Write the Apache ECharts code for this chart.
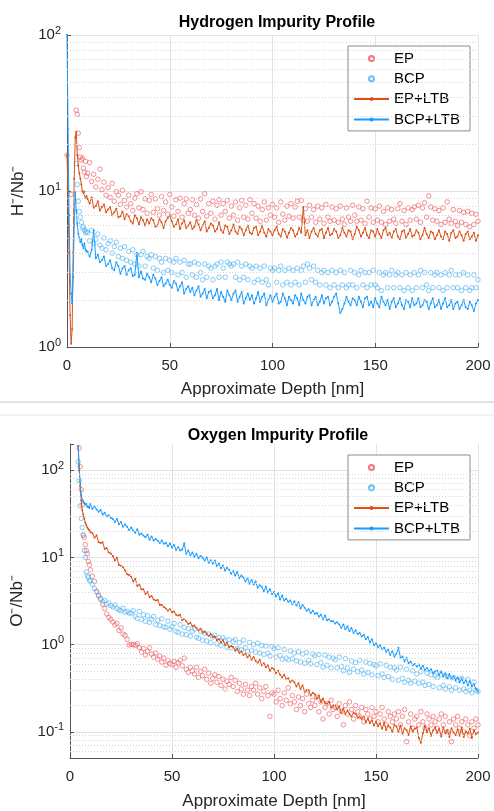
<!DOCTYPE html>
<html>
<head>
<meta charset="utf-8">
<script src="https://cdn.jsdelivr.net/npm/echarts@6.0.0/dist/echarts.min.js"></script>
<style>
html, body { margin: 0; padding: 0; background: #fff; }
#chart { width: 494px; height: 811px; }
</style>
</head>
<body>
<div id="chart"></div>
<script>
// depth grid [nm]: fine steps near the surface, then 1 nm
var depth = [
  0, 0.5, 1, 1.5, 2, 2.5, 3, 3.5, 4, 4.5, 5, 5.5, 6, 6.5, 7, 7.5, 8, 8.5, 9, 9.5,
  10, 11, 12, 13, 14, 15, 16, 17, 18, 19,
  20, 21, 22, 23, 24, 25, 26, 27, 28, 29,
  30, 31, 32, 33, 34, 35, 36, 37, 38, 39,
  40, 41, 42, 43, 44, 45, 46, 47, 48, 49,
  50, 51, 52, 53, 54, 55, 56, 57, 58, 59,
  60, 61, 62, 63, 64, 65, 66, 67, 68, 69,
  70, 71, 72, 73, 74, 75, 76, 77, 78, 79,
  80, 81, 82, 83, 84, 85, 86, 87, 88, 89,
  90, 91, 92, 93, 94, 95, 96, 97, 98, 99,
  100, 101, 102, 103, 104, 105, 106, 107, 108, 109,
  110, 111, 112, 113, 114, 115, 116, 117, 118, 119,
  120, 121, 122, 123, 124, 125, 126, 127, 128, 129,
  130, 131, 132, 133, 134, 135, 136, 137, 138, 139,
  140, 141, 142, 143, 144, 145, 146, 147, 148, 149,
  150, 151, 152, 153, 154, 155, 156, 157, 158, 159,
  160, 161, 162, 163, 164, 165, 166, 167, 168, 169,
  170, 171, 172, 173, 174, 175, 176, 177, 178, 179,
  180, 181, 182, 183, 184, 185, 186, 187, 188, 189,
  190, 191, 192, 193, 194, 195, 196, 197, 198, 199,
  200
];

// ---- Hydrogen (H-/Nb-) ----
var hEp = [
  17, null, null, null, 9.5, null, null, null, null, 33, 31, 23.5, 19, 16.5, 15.8, 16.2, 14, 13.2, 15.5, 12.4,
  13.0, 15.2, 11.5, 12.8, 10.6, 11.9, 13.8, 10.2, 11.4, 9.4,
  10.5, 9.1, 11.2, 8.6, 9.9, 9.4, 8.2, 10.1, 8.7, 7.9,
  9.4, 8.3, 7.5, 9.0, 9.6, 7.8, 9.9, 7.6, 8.9, 7.2,
  8.7, 9.5, 7.3, 8.9, 7.7, 7.0, 9.2, 7.5, 8.5, 7.1,
  9.5, 7.9, 6.9, 8.8, 7.4, 9.0, 6.8, 8.3, 8.9, 7.2,
  7.6, 8.8, 7.0, 8.2, 6.7, 8.9, 7.4, 9.6, 6.9, 8.3,
  7.2, 8.6, 6.6, 8.1, 8.8, 7.0, 8.3, 7.4, 8.7, 6.7,
  8.0, 7.0, 8.5, 6.5, 7.8, 8.7, 6.8, 8.1, 6.6, 8.8,
  7.2, 8.3, 6.7, 8.0, 6.4, 7.6, 8.5, 6.5, 7.8, 7.0,
  8.2, 6.8, 7.8, 6.3, 8.5, 7.1, 6.5, 8.0, 6.9, 8.3,
  6.7, 7.9, 8.6, 6.8, 8.7, 6.5, 7.7, 6.4, 8.1, 6.8,
  7.6, 6.3, 8.0, 6.6, 7.8, 6.2, 8.2, 6.8, 6.4, 7.9,
  6.5, 7.7, 6.3, 8.0, 6.6, 6.1, 7.8, 6.8, 6.4, 8.1,
  7.0, 6.4, 7.9, 6.5, 7.7, 6.2, 8.6, 6.8, 7.8, 6.3,
  7.7, 6.5, 8.0, 6.3, 7.4, 6.1, 7.8, 6.4, 7.6, 6.6,
  6.2, 7.7, 8.3, 6.4, 7.5, 6.1, 7.8, 6.5, 7.6, 7.9,
  6.6, 8.1, 6.3, 7.8, 8.4, 6.8, 9.3, 7.9, 6.5, 7.7,
  6.4, 7.5, 6.1, 7.8, 6.3, 8.5, 6.6, 6.2, 7.6, 6.4,
  6.0, 7.5, 6.3, 7.3, 6.1, 7.4, 5.9, 7.2, 6.1, 7.1,
  6.4
];
var hBcp = [
  null, null, null, null, null, null, null, null, null, 15, 11, 8.6, 7.4, 6.8, 6.3, 5.8, 5.9, 5.6, 5.4, 5.5,
  5.4, 4.8, 5.6, 4.6, 4.9, 5.3, 4.5, 4.3, 5.0, 4.2,
  4.6, 4.8, 4.0, 4.4, 4.7, 3.8, 4.3, 3.7, 4.4, 3.6,
  4.1, 3.5, 4.2, 3.4, 3.9, 3.3, 3.9, 4.1, 3.3, 3.8,
  3.7, 3.9, 3.2, 3.8, 3.1, 3.7, 3.5, 3.0, 3.7, 3.1,
  3.6, 3.0, 3.5, 3.7, 2.9, 3.5, 3.0, 3.6, 2.8, 3.4,
  3.4, 2.9, 3.5, 2.8, 3.4, 3.0, 2.7, 3.4, 2.8, 3.3,
  3.2, 2.7, 3.3, 3.4, 2.8, 3.5, 3.2, 2.8, 3.5, 3.4,
  3.3, 3.4, 2.8, 3.5, 2.7, 3.3, 2.8, 3.4, 2.7, 3.3,
  3.2, 2.6, 3.3, 2.7, 3.2, 2.6, 3.3, 2.7, 2.5, 3.2,
  3.1, 3.2, 2.6, 3.1, 3.3, 2.5, 3.1, 2.6, 3.2, 2.5,
  3.1, 2.6, 3.2, 2.5, 3.1, 3.3, 2.6, 3.4, 3.2, 2.7,
  3.3, 2.6, 3.1, 2.5, 3.0, 3.1, 2.5, 3.0, 2.4, 3.1,
  2.5, 3.0, 2.4, 3.1, 2.5, 3.0, 2.4, 2.5, 3.1, 2.5,
  3.0, 2.4, 2.9, 3.1, 2.5, 3.0, 2.4, 3.0, 2.5, 3.1,
  2.5, 2.4, 3.0, 2.3, 2.9, 3.0, 2.4, 2.9, 3.1, 2.4,
  2.9, 3.0, 2.4, 2.9, 2.3, 3.0, 2.4, 2.9, 2.3, 3.0,
  2.4, 2.9, 3.1, 2.4, 3.0, 2.5, 2.3, 3.0, 2.4, 2.9,
  3.0, 2.4, 2.9, 2.3, 3.0, 2.4, 2.9, 3.1, 2.4, 2.9,
  2.4, 2.9, 2.3, 3.0, 2.4, 2.9, 2.3, 2.4, 2.9, 2.4,
  2.7
];
var hEpLtb = [
  17, 10, 4, 1.6, 1.05, 1.3, 4, 12, 22, 24, 17, 14.5, 13, 12, 11, 10, 9.7, 9.9, 9.0, 9.3,
  8.9, 8.3, 9.1, 7.8, 8.0, 8.6, 7.5, 7.9, 8.2, 7.3,
  7.6, 7.9, 7.0, 7.3, 7.7, 6.8, 6.9, 7.4, 6.6, 7.1,
  6.9, 6.4, 6.2, 7.0, 6.7, 6.1, 6.8, 6.5, 6.0, 6.6,
  6.2, 6.7, 6.5, 5.9, 6.0, 6.6, 6.3, 5.8, 6.4, 6.7,
  7.0, 6.4, 5.9, 6.1, 6.6, 5.7, 6.2, 6.5, 5.8, 6.0,
  6.3, 5.7, 5.9, 6.5, 6.1, 5.6, 6.0, 6.4, 5.5, 5.8,
  6.2, 6.0, 5.5, 5.7, 6.3, 5.6, 5.4, 6.0, 5.9, 5.3,
  5.6, 6.1, 5.5, 5.3, 5.9, 5.7, 5.2, 5.6, 6.0, 5.4,
  5.3, 5.8, 5.9, 5.2, 5.5, 6.0, 5.4, 5.1, 5.7, 5.5,
  5.2, 5.6, 5.9, 5.3, 5.1, 5.7, 5.5, 5.0, 5.4, 5.8,
  5.6, 5.1, 5.3, 5.8, 5.4, 7.9, 5.2, 5.6, 5.0, 5.5,
  5.8, 5.3, 5.1, 5.6, 5.7, 5.0, 5.4, 5.8, 5.2, 5.3,
  5.7, 5.5, 5.0, 5.2, 5.8, 5.4, 5.1, 5.6, 5.5, 4.9,
  5.3, 5.9, 5.6, 5.1, 5.4, 5.8, 5.2, 5.0, 5.6, 5.5,
  5.1, 5.7, 5.3, 5.0, 5.6, 5.8, 5.2, 5.4, 5.0, 5.5,
  5.7, 5.1, 4.9, 5.5, 5.6, 5.0, 5.3, 5.7, 5.1, 5.2,
  5.6, 5.4, 4.9, 5.2, 5.8, 5.3, 5.0, 5.5, 5.4, 4.9,
  5.2, 5.6, 5.1, 4.9, 5.5, 5.3, 4.8, 5.4, 5.6, 5.0,
  5.1, 5.5, 5.2, 4.8, 5.3, 5.5, 4.9, 5.1, 5.4, 4.8,
  5.2
];
var hBcpLtb = [
  100, 25, 7, 3, 2.2, 1.9, 2.8, 6, 9.8, 7.5, 6.2, 5.3, 5.0, 4.7, 4.9, 4.5, 4.3, 4.6, 4.2, 4.1,
  4.1, 3.8, 4.2, 5.6, 3.7, 3.9, 3.5, 3.6, 3.8, 3.3,
  3.4, 3.6, 3.2, 3.1, 3.5, 3.3, 2.95, 3.2, 3.3, 2.9,
  3.1, 3.2, 2.85, 2.9, 4.0, 2.8, 3.05, 2.75, 2.7, 2.95,
  2.8, 2.6, 2.9, 2.75, 2.5, 2.65, 2.8, 2.45, 2.55, 2.7,
  2.5, 2.4, 2.65, 2.55, 2.3, 2.45, 2.6, 2.2, 2.35, 2.45,
  2.25, 2.4, 2.15, 2.3, 2.45, 2.1, 2.2, 2.35, 2.05, 2.25,
  2.3, 2.05, 2.15, 2.35, 2.0, 2.25, 2.1, 1.95, 2.3, 2.15,
  2.0, 2.2, 2.3, 1.95, 2.1, 2.25, 1.9, 2.05, 2.2, 2.0,
  2.15, 1.9, 2.05, 2.25, 1.95, 2.1, 2.2, 1.85, 2.0, 2.15,
  1.95, 2.1, 2.2, 1.9, 1.95, 2.2, 2.05, 1.85, 2.1, 2.0,
  1.9, 2.15, 2.05, 1.85, 2.2, 2.0, 1.9, 2.1, 2.15, 1.85,
  2.0, 2.1, 1.85, 1.95, 2.15, 1.9, 2.05, 2.1, 1.85, 1.95,
  2.1, 2.2, 1.9, 1.65, 1.75, 1.9, 2.1, 1.95, 1.85, 2.05,
  2.0, 1.85, 2.1, 1.95, 1.8, 2.05, 2.1, 1.85, 1.95, 1.8,
  2.05, 1.9, 1.8, 2.1, 1.95, 1.85, 2.0, 1.75, 1.95, 2.05,
  1.8, 1.9, 2.05, 1.85, 1.75, 2.0, 1.95, 1.8, 2.05, 1.85,
  1.9, 2.05, 1.8, 1.85, 2.0, 1.95, 1.75, 1.9, 2.05, 1.8,
  1.85, 2.0, 1.75, 1.9, 2.05, 1.8, 1.85, 2.0, 1.75, 1.9,
  1.95, 1.75, 1.85, 2.0, 1.8, 1.75, 1.95, 1.85, 1.7, 1.9,
  2.0
];

// ---- Oxygen (O-/Nb-) ----
var oEp = [
  null, null, null, null, null, null, null, null, null, 180, 110, 60, 40, 18, 17, 14, 12, 11, 9, 8.2,
  7.2, 6.1, 5.3, 4.1, 3.7, 3.3, 2.9, 2.6, 2.25, 2.05,
  1.95, 1.82, 1.68, 1.75, 1.45, 1.55, 1.32, 1.28, 1.15, 0.99,
  1.01, 1.0, 0.98, 1.02, 0.92, 0.82, 0.9, 0.76, 0.84, 0.92,
  0.78, 0.72, 0.8, 0.68, 0.74, 0.63, 0.7, 0.58, 0.66, 0.61,
  0.59, 0.64, 0.55, 0.62, 0.66, 0.57, 0.7, 0.52, 0.48, 0.55,
  0.5, 0.46, 0.55, 0.42, 0.49, 0.44, 0.52, 0.4, 0.47, 0.36,
  0.41, 0.45, 0.37, 0.43, 0.34, 0.4, 0.31, 0.38, 0.35, 0.42,
  0.33, 0.39, 0.29, 0.36, 0.31, 0.27, 0.35, 0.3, 0.26, 0.33,
  0.3, 0.36, 0.27, 0.32, 0.24, 0.29, 0.33, 0.26, 0.15, 0.28,
  0.27, 0.22, 0.3, 0.24, 0.2, 0.28, 0.23, 0.32, 0.21, 0.26,
  0.22, 0.18, 0.25, 0.2, 0.24, 0.17, 0.27, 0.21, 0.19, 0.23,
  0.2, 0.25, 0.17, 0.22, 0.14, 0.19, 0.21, 0.16, 0.23, 0.18,
  0.19, 0.15, 0.21, 0.17, 0.12, 0.2, 0.16, 0.22, 0.18, 0.14,
  0.2, 0.17, 0.15, 0.19, 0.13, 0.18, 0.16, 0.14, 0.19, 0.15,
  0.17, 0.13, 0.16, 0.19, 0.14, 0.12, 0.17, 0.15, 0.13, 0.16,
  0.14, 0.17, 0.12, 0.15, 0.18, 0.077, 0.13, 0.16, 0.11, 0.14,
  0.15, 0.12, 0.17, 0.13, 0.11, 0.16, 0.14, 0.12, 0.15, 0.13,
  0.11, 0.14, 0.16, 0.12, 0.15, 0.1, 0.13, 0.077, 0.14, 0.12,
  0.15, 0.11, 0.13, 0.1, 0.14, 0.12, 0.09, 0.13, 0.11, 0.14,
  0.12
];
var oBcp = [
  null, null, null, null, null, null, null, null, 125, 76, 39, 28, 22, 18, 12, 10, 6.8, 6.2, 5.9, 5.4,
  5.5, 4.9, 4.4, 4.0, 3.6, 3.4, 3.1, 3.2, 2.9, 3.0,
  2.8, 2.7, 2.85, 2.6, 2.5, 2.45, 2.6, 2.35, 2.4, 2.3,
  2.3, 2.45, 2.1, 2.0, 2.4, 1.95, 2.2, 1.85, 2.15, 1.8,
  1.95, 2.1, 1.7, 1.9, 1.65, 1.98, 1.6, 1.58, 1.85, 1.5,
  1.6, 1.75, 1.42, 1.38, 1.7, 1.32, 1.58, 1.3, 1.52, 1.25,
  1.42, 1.5, 1.22, 1.18, 1.42, 1.12, 1.35, 1.1, 1.32, 1.05,
  1.22, 1.28, 1.02, 1.2, 0.98, 1.2, 1.12, 0.93, 1.14, 0.92,
  1.08, 1.14, 0.9, 1.05, 0.87, 1.12, 0.92, 0.84, 1.06, 0.86,
  1.0, 0.82, 1.04, 0.8, 0.98, 0.77, 0.96, 0.8, 0.74, 0.95,
  0.9, 0.72, 0.92, 0.75, 0.68, 0.88, 0.7, 0.67, 0.85, 0.69,
  0.8, 0.65, 0.83, 0.63, 0.78, 0.61, 0.81, 0.66, 0.6, 0.78,
  0.75, 0.59, 0.77, 0.62, 0.55, 0.76, 0.58, 0.72, 0.54, 0.7,
  0.67, 0.54, 0.72, 0.56, 0.5, 0.69, 0.54, 0.48, 0.65, 0.52,
  0.62, 0.49, 0.66, 0.51, 0.46, 0.63, 0.48, 0.61, 0.45, 0.59,
  0.57, 0.44, 0.6, 0.46, 0.42, 0.58, 0.43, 0.55, 0.4, 0.54,
  0.51, 0.39, 0.55, 0.41, 0.37, 0.52, 0.39, 0.36, 0.5, 0.38,
  0.46, 0.36, 0.49, 0.37, 0.34, 0.47, 0.35, 0.45, 0.33, 0.44,
  0.42, 0.32, 0.45, 0.34, 0.31, 0.43, 0.33, 0.3, 0.42, 0.32,
  0.39, 0.3, 0.41, 0.31, 0.29, 0.4, 0.3, 0.28, 0.37, 0.3,
  0.29
];
var oEpLtb = [
  null, null, null, null, null, null, null, null, 190, 100, 65, 45, 35, 31, 28, 25, 23.5, 22, 21, 20.5,
  19.5, 18.9, 16.8, 17.9, 15.0, 14.6, 14.9, 12.5, 12.8, 11.4,
  11.1, 10.4, 9.2, 9.9, 8.2, 8.0, 7.7, 7.1, 6.4, 6.3,
  6.0, 5.3, 5.7, 4.7, 4.9, 4.3, 4.3, 3.8, 4.0, 3.5,
  3.6, 3.3, 3.2, 3.25, 2.85, 2.85, 2.7, 2.6, 2.45, 2.55,
  2.35, 2.4, 2.2, 2.15, 2.2, 1.9, 1.98, 1.85, 1.72, 1.78,
  1.62, 1.66, 1.55, 1.45, 1.52, 1.38, 1.4, 1.33, 1.26, 1.32,
  1.22, 1.24, 1.12, 1.16, 1.06, 1.12, 0.99, 1.05, 0.93, 0.96,
  0.94, 0.85, 0.9, 0.8, 0.84, 0.76, 0.79, 0.71, 0.76, 0.67,
  0.72, 0.65, 0.62, 0.67, 0.58, 0.61, 0.55, 0.58, 0.5, 0.54,
  0.52, 0.47, 0.5, 0.45, 0.42, 0.45, 0.4, 0.41, 0.37, 0.39,
  0.37, 0.33, 0.36, 0.31, 0.34, 0.29, 0.3, 0.3, 0.26, 0.28,
  0.27, 0.24, 0.26, 0.22, 0.24, 0.215, 0.21, 0.22, 0.19, 0.2,
  0.2, 0.18, 0.195, 0.165, 0.185, 0.16, 0.175, 0.16, 0.15, 0.165,
  0.16, 0.145, 0.15, 0.14, 0.15, 0.128, 0.142, 0.125, 0.135, 0.118,
  0.13, 0.116, 0.124, 0.108, 0.128, 0.105, 0.118, 0.112, 0.1, 0.12,
  0.115, 0.1, 0.118, 0.095, 0.11, 0.104, 0.092, 0.116, 0.1, 0.108,
  0.112, 0.085, 0.075, 0.096, 0.118, 0.099, 0.11, 0.09, 0.104, 0.113,
  0.097, 0.108, 0.088, 0.112, 0.096, 0.104, 0.087, 0.11, 0.098, 0.092,
  0.106, 0.09, 0.112, 0.087, 0.1, 0.096, 0.108, 0.085, 0.104, 0.094,
  0.098
];
var oBcpLtb = [
  null, null, null, null, null, null, null, null, 190, 110, 70, 52, 46, 44, 42, 40, 41, 38, 39, 37,
  41, 36, 38.5, 35.5, 33.5, 35, 31, 32.5, 29.5, 30.5,
  28.5, 27.5, 25.5, 27.5, 24, 25.5, 22.5, 23.8, 22.5, 20.6,
  22, 20.2, 19.2, 21, 18.2, 18.8, 17.8, 17.0, 18.2, 15.9,
  17.4, 15.6, 16.3, 15.5, 14.6, 15.6, 14.3, 14.7, 13.4, 14.4,
  13.0, 13.9, 12.2, 13.1, 12.0, 12.3, 14.5, 11.0, 12.0, 10.6,
  11.4, 10.2, 11.0, 9.8, 10.4, 9.9, 9.2, 10.0, 8.7, 9.3,
  8.5, 9.2, 7.9, 8.5, 7.5, 8.1, 7.1, 7.6, 7.2, 6.5,
  7.0, 6.2, 6.8, 5.8, 6.2, 5.9, 5.3, 5.8, 5.0, 5.5,
  4.9, 5.3, 4.5, 4.8, 4.6, 4.1, 4.6, 3.95, 4.3, 3.8,
  4.0, 3.55, 3.9, 3.3, 3.65, 3.2, 3.35, 3.1, 3.2, 2.9,
  3.15, 2.8, 3.05, 2.6, 2.85, 2.65, 2.45, 2.55, 2.3, 2.45,
  2.25, 2.3, 2.1, 2.2, 1.95, 2.15, 1.9, 1.95, 1.85, 1.85,
  1.75, 1.8, 1.7, 1.55, 1.7, 1.5, 1.62, 1.42, 1.55, 1.36,
  1.46, 1.32, 1.36, 1.24, 1.3, 1.15, 1.22, 1.06, 1.15, 0.99,
  1.03, 0.94, 0.98, 0.89, 0.92, 0.83, 0.88, 0.76, 0.84, 0.73,
  0.78, 0.92, 0.7, 0.73, 0.64, 0.7, 0.61, 0.64, 0.58, 0.6,
  0.56, 0.59, 0.53, 0.57, 0.51, 0.54, 0.5, 0.52, 0.47, 0.49,
  0.5, 0.45, 0.49, 0.43, 0.47, 0.41, 0.46, 0.4, 0.43, 0.39,
  0.42, 0.37, 0.41, 0.36, 0.39, 0.34, 0.38, 0.33, 0.35, 0.31,
  0.29
];

var seriesNames = ['EP', 'BCP', 'EP+LTB', 'BCP+LTB'];
var minorH = [2, 3, 4, 5, 6, 7, 8, 9, 20, 30, 40, 50, 60, 70, 80, 90];
var minorO = [0.06, 0.07, 0.08, 0.09, 0.2, 0.3, 0.4, 0.5, 0.6, 0.7, 0.8, 0.9,
  2, 3, 4, 5, 6, 7, 8, 9, 20, 30, 40, 50, 60, 70, 80, 90];

var FONT = 'Liberation Sans, Arial, Helvetica, sans-serif';
var TXT = '#262626';
var C_EP = '#ef5258', C_BCP = '#44aef0', C_EPL = '#d95319', C_BCPL = '#1a9cff';

function pairs(vals) {
    var out = [];
    for (var i = 0; i < depth.length; i++) {
        if (vals[i] != null) out.push([depth[i], vals[i]]);
    }
    return out;
}

function powLabel(v) {
    var lg = Math.log10(v);
    var e = Math.round(lg);
    if (Math.abs(lg - e) > 1e-6) return '';
    return '{b|10}{s|' + e + '}';
}

function scat(name, vals, color, idx) {
    return {
        name: name, type: 'scatter', xAxisIndex: idx, yAxisIndex: idx,
        data: pairs(vals), symbol: 'circle', symbolSize: 4.5, silent: true, z: 2,
        itemStyle: { color: 'rgba(255,255,255,0)', borderColor: color, borderWidth: 0.8 }
    };
}

function line(name, vals, color, idx) {
    return {
        name: name, type: 'line', xAxisIndex: idx, yAxisIndex: idx,
        data: pairs(vals), symbol: 'circle', symbolSize: 2, showSymbol: true, showAllSymbol: true,
        silent: true, z: 3,
        lineStyle: { color: color, width: 1 }, itemStyle: { color: color }
    };
}

// dotted minor grid lines at 2..9 x 10^n
function minorGrid(vals, idx) {
    return {
        type: 'line', xAxisIndex: idx, yAxisIndex: idx, data: [], silent: true, z: 1,
        markLine: {
            silent: true, symbol: ['none', 'none'], animation: false,
            label: { show: false },
            lineStyle: { color: '#d6d6d6', type: [1, 2], width: 1 },
            data: vals.map(function (v) { return { yAxis: v }; })
        }
    };
}

function xAx(idx, gap) {
    return {
        gridIndex: idx, type: 'value', min: 0, max: 200, interval: 50,
        name: 'Approximate Depth [nm]', nameLocation: 'middle', nameGap: gap,
        nameTextStyle: { fontSize: 17, color: TXT, fontFamily: FONT },
        axisLine: { lineStyle: { color: '#555', width: 1 } },
        axisTick: { inside: true, length: 4, lineStyle: { color: '#555' } },
        axisLabel: { fontSize: 15, color: TXT, fontFamily: FONT, margin: 11 },
        splitLine: { show: true, lineStyle: { color: '#e3e3e3', width: 1 } }
    };
}

function yAx(idx, name, min, max, gap) {
    return {
        gridIndex: idx, type: 'log', logBase: 10, min: min, max: max,
        name: name, nameLocation: 'middle', nameGap: gap,
        nameTextStyle: { fontSize: 17, color: TXT, fontFamily: FONT },
        axisLine: { show: true, lineStyle: { color: '#555', width: 1 } },
        axisTick: { show: true, inside: true, length: 4, lineStyle: { color: '#555' } },
        axisLabel: {
            formatter: powLabel, margin: 6,
            rich: {
                b: { fontSize: 15, color: TXT, fontFamily: FONT },
                s: { fontSize: 11, color: TXT, fontFamily: FONT, padding: [0, 0, 9, 0] }
            }
        },
        splitLine: { show: true, showMaxLine: idx === 0, lineStyle: { color: '#e3e3e3', width: 1 } }
    };
}

function legendBox(top) {
    return {
        data: seriesNames, orient: 'vertical', left: 348, top: top,
        itemWidth: 35, itemHeight: 5, itemGap: 5.3,
        padding: [5, 10, 4, 5],
        borderColor: '#8c8c8c', borderWidth: 1, backgroundColor: '#fff',
        selectedMode: false,
        textStyle: { fontSize: 15, color: '#000', fontFamily: FONT }
    };
}

var chart = echarts.init(document.getElementById('chart'));
chart.setOption({
    animation: false,
    backgroundColor: '#fff',
    title: [
        { text: 'Hydrogen Impurity Profile', left: 272, top: 10, textAlign: 'center',
          textStyle: { fontSize: 16, fontWeight: 'bold', color: '#000', fontFamily: FONT } },
        { text: 'Oxygen Impurity Profile', left: 273, top: 423, textAlign: 'center',
          textStyle: { fontSize: 16, fontWeight: 'bold', color: '#000', fontFamily: FONT } }
    ],
    legend: [legendBox(46), legendBox(455)],
    grid: [
        { left: 67, top: 35, width: 411, height: 312 },
        { left: 70, top: 444, width: 408, height: 314 }
    ],
    xAxis: [xAx(0, 34), xAx(1, 35)],
    yAxis: [yAx(0, 'H\u207B/Nb\u207B', 1, 100, 40), yAx(1, 'O\u207B/Nb\u207B', 0.05, 200, 44)],
    graphic: [
        { type: 'line', shape: { x1: 0, y1: 402, x2: 494, y2: 402 }, style: { stroke: '#c4c4c4', lineWidth: 1 } },
        { type: 'line', shape: { x1: 0, y1: 415, x2: 494, y2: 415 }, style: { stroke: '#e6e6e6', lineWidth: 1 } }
    ],
    series: [
        minorGrid(minorH, 0),
        scat('EP', hEp, C_EP, 0),
        scat('BCP', hBcp, C_BCP, 0),
        line('EP+LTB', hEpLtb, C_EPL, 0),
        line('BCP+LTB', hBcpLtb, C_BCPL, 0),
        minorGrid(minorO, 1),
        scat('EP', oEp, C_EP, 1),
        scat('BCP', oBcp, C_BCP, 1),
        line('EP+LTB', oEpLtb, C_EPL, 1),
        line('BCP+LTB', oBcpLtb, C_BCPL, 1)
    ]
});
</script>
</body>
</html>
